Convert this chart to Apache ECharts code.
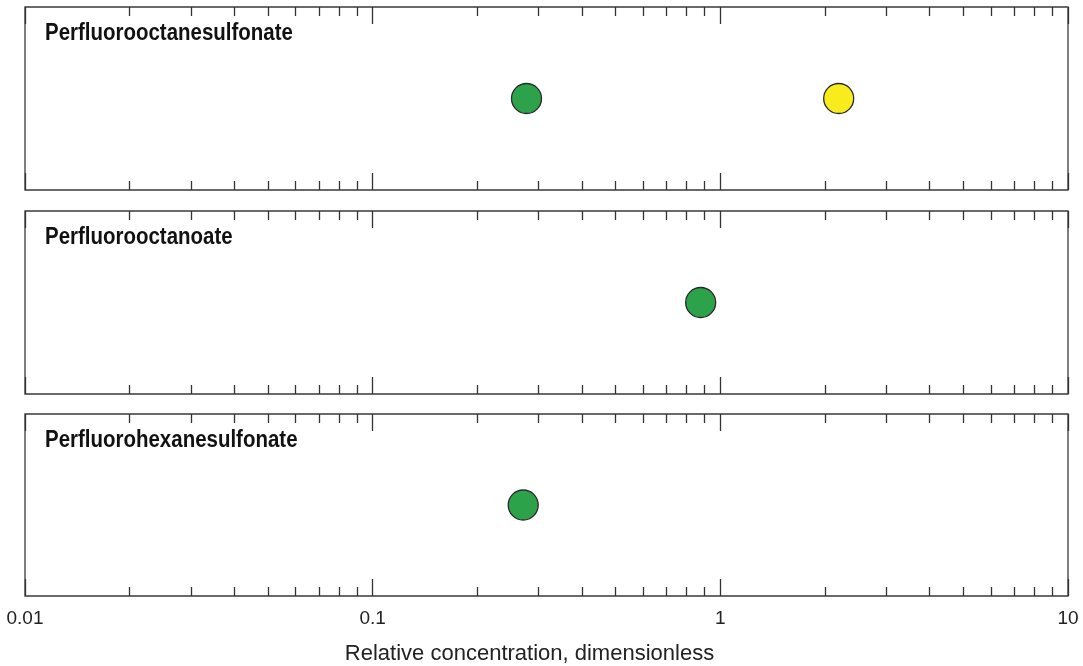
<!DOCTYPE html>
<html>
<head>
<meta charset="utf-8">
<script src="https://cdn.jsdelivr.net/npm/echarts@6/dist/echarts.min.js"></script>
<style>html,body{margin:0;padding:0;background:#fff}#c{width:1083px;height:666px}</style>
</head>
<body>
<div id="c"></div>
<script>
const panels = ['Perfluorooctanesulfonate', 'Perfluorooctanoate', 'Perfluorohexanesulfonate'];
const greenValues = [0.277, 0.878, 0.271];
const yellowValues = [2.19, null, null];
const majorTicks = [0.01, 0.1, 1, 10];
const minorTicks = [0.02,0.03,0.04,0.05,0.06,0.07,0.08,0.09,0.2,0.3,0.4,0.5,0.6,0.7,0.8,0.9,2,3,4,5,6,7,8,9];
const tickLabels = ['0.01', '0.1', '1', '10'];
const axisTitle = 'Relative concentration, dimensionless';

const FONT = '"Liberation Sans", Arial, sans-serif';
const tops = [7, 211, 414];
const H = 183;
const grids = [], xAxes = [], yAxes = [], series = [], graphics = [];
panels.forEach((name, i) => {
  grids.push({left: 25, right: 15, top: tops[i], height: H, show: true, borderColor: '#3a3a3a', borderWidth: 1.3, backgroundColor: 'transparent'});
  const base = {type: 'log', logBase: 10, min: 0.01, max: 10, gridIndex: i, axisLine: {show: false}, splitLine: {show: false}};
  [['bottom', 17, majorTicks, i === 2], ['bottom', 9, minorTicks, false], ['top', 17, majorTicks, false], ['top', 9, minorTicks, false]].forEach(([pos, len, vals, lbl]) => {
    const ax = Object.assign({}, base, {
      position: pos,
      axisTick: {show: true, inside: true, length: len, customValues: vals, lineStyle: {color: '#333', width: 1.3}},
      axisLabel: {show: lbl, customValues: majorTicks, margin: 13, color: '#222', fontFamily: FONT, fontSize: 19,
        formatter: v => { const k = majorTicks.findIndex(t => Math.abs(Math.log10(t) - Math.log10(v)) < 1e-6); return k >= 0 ? tickLabels[k] : ''; }}
    });
    if (lbl) {
      ax.name = axisTitle; ax.nameLocation = 'middle'; ax.nameGap = 47;
      ax.nameTextStyle = {color: '#222', fontFamily: FONT, fontSize: 22, padding: [0, 34, 0, 0]};
    }
    xAxes.push(ax);
  });
  yAxes.push({type: 'value', min: 0, max: 1, gridIndex: i, show: false});
  graphics.push({type: 'text', left: 45, top: tops[i] + 15, scaleX: 0.89, originX: 0,
    style: {text: name, font: 'bold 23px ' + FONT, fill: '#111'}});
  const xi = i * 4;
  series.push({type: 'scatter', xAxisIndex: xi, yAxisIndex: i, symbolSize: 30,
    itemStyle: {color: '#2ca24a', borderColor: '#2a2a2a', borderWidth: 1.3, opacity: 1},
    data: greenValues[i] != null ? [[greenValues[i], 0.5]] : []});
  series.push({type: 'scatter', xAxisIndex: xi, yAxisIndex: i, symbolSize: 30,
    itemStyle: {color: '#f9ec1c', borderColor: '#2a2a2a', borderWidth: 1.3, opacity: 1},
    data: yellowValues[i] != null ? [[yellowValues[i], 0.5]] : []});
});

const chart = echarts.init(document.getElementById('c'));
chart.setOption({animation: false, grid: grids, xAxis: xAxes, yAxis: yAxes, series: series, graphic: graphics});
</script>
</body>
</html>
